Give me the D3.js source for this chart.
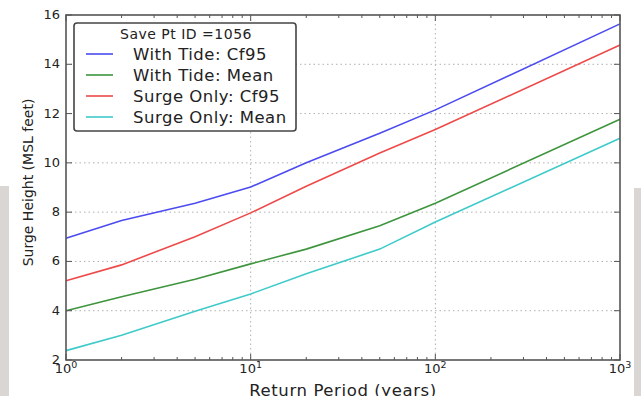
<!DOCTYPE html>
<html lang="en">
<head>
<meta charset="UTF-8">
<script src="https://d3js.org/d3.v7.min.js"></script>
<title>Surge Height</title>
<style>
  body { margin: 0; background: #fff; }
  text { font-family: "DejaVu Sans", sans-serif; fill: #222; }
</style>
</head>
<body>
<script>
    // return periods (years) and surge heights (MSL feet)
    let periods = [1, 2, 5, 10, 20, 50, 100, 1000];
    let tideCf95 = [6.94, 7.66, 8.36, 9.02, 10.0, 11.2, 12.15, 15.64];
    let tideMean = [4.0, 4.57, 5.28, 5.9, 6.5, 7.45, 8.36, 11.77];
    let surgeCf95 = [5.22, 5.86, 7.0, 7.97, 9.05, 10.4, 11.35, 14.78];
    let surgeMean = [2.38, 3.0, 3.98, 4.68, 5.5, 6.5, 7.6, 11.0];
    let seriesNames = ["With Tide: Cf95", "With Tide: Mean", "Surge Only: Cf95", "Surge Only: Mean"];
    let seriesColors = ["#4b4bf0", "#3e953e", "#ee4a4a", "#3fcaca"];
    let yTicks = [2, 4, 6, 8, 10, 12, 14, 16];
    let xTicks = [1, 10, 100, 1000];
    let legendTitle = "Save Pt ID =1056";

    let allSeries = [tideCf95, tideMean, surgeCf95, surgeMean];

    let width = 641, height = 396;
    let mLeft = 66, mRight = 620, mTop = 15, mBottom = 360;

    let svg = d3.select("body").append("svg")
        .attr("width", width)
        .attr("height", height);

    // grey page edges behind the figure
    svg.append("rect").attr("x", 0).attr("y", 186).attr("width", 9).attr("height", 210).attr("fill", "#d9d6d3");
    svg.append("rect").attr("x", 634).attr("y", 188).attr("width", 7).attr("height", 208).attr("fill", "#d9d6d3");

    let x = d3.scaleLog().domain([1, 1000]).range([mLeft, mRight]);
    let y = d3.scaleLinear().domain([2, 16]).range([mBottom, mTop]);

    // grid
    let grid = svg.append("g").attr("stroke", "#b0b0b0").attr("stroke-dasharray", "1.5,3").attr("stroke-width", 1);
    yTicks.slice(1, -1).forEach(t => {
        grid.append("line").attr("x1", mLeft).attr("x2", mRight).attr("y1", y(t)).attr("y2", y(t));
    });
    xTicks.slice(1, -1).forEach(t => {
        grid.append("line").attr("x1", x(t)).attr("x2", x(t)).attr("y1", mTop).attr("y2", mBottom);
    });

    // lines
    let line = d3.line()
        .x((d, i) => x(periods[i]))
        .y(d => y(d));

    allSeries.forEach((s, i) => {
        svg.append("path")
            .attr("d", line(s))
            .attr("fill", "none")
            .attr("stroke", seriesColors[i])
            .attr("stroke-width", 1.6);
    });

    // inward ticks, all four sides (matplotlib classic)
    let ticks = svg.append("g").attr("stroke", "#555").attr("stroke-width", 1);
    let minor = [];
    [1, 10, 100].forEach(d => { for (let k = 2; k <= 9; k++) minor.push(d * k); });
    xTicks.forEach(t => {
        ticks.append("line").attr("x1", x(t)).attr("x2", x(t)).attr("y1", mBottom).attr("y2", mBottom - 6);
        ticks.append("line").attr("x1", x(t)).attr("x2", x(t)).attr("y1", mTop).attr("y2", mTop + 6);
    });
    minor.forEach(t => {
        ticks.append("line").attr("x1", x(t)).attr("x2", x(t)).attr("y1", mBottom).attr("y2", mBottom - 3);
        ticks.append("line").attr("x1", x(t)).attr("x2", x(t)).attr("y1", mTop).attr("y2", mTop + 3);
    });
    yTicks.forEach(t => {
        ticks.append("line").attr("x1", mLeft).attr("x2", mLeft + 6).attr("y1", y(t)).attr("y2", y(t));
        ticks.append("line").attr("x1", mRight).attr("x2", mRight - 6).attr("y1", y(t)).attr("y2", y(t));
    });

    // frame
    svg.append("rect")
        .attr("x", mLeft).attr("y", mTop)
        .attr("width", mRight - mLeft).attr("height", mBottom - mTop)
        .attr("fill", "none").attr("stroke", "#555").attr("stroke-width", 1.6);

    // y tick labels
    yTicks.forEach(t => {
        svg.append("text")
            .attr("x", mLeft - 6)
            .attr("y", y(t) + 4)
            .attr("text-anchor", "end")
            .attr("font-size", 13)
            .text(t);
    });

    // x tick labels 10^n
    xTicks.forEach(t => {
        let lbl = svg.append("text")
            .attr("x", x(t))
            .attr("y", mBottom + 13)
            .attr("text-anchor", "middle")
            .attr("font-size", 13);
        lbl.append("tspan").text("10");
        lbl.append("tspan").attr("dy", -5).attr("font-size", 9.5).text(Math.round(Math.log10(t)));
    });

    // axis titles
    svg.append("text")
        .attr("x", (mLeft + mRight) / 2)
        .attr("y", 396)
        .attr("text-anchor", "middle")
        .attr("font-size", 16.5)
        .attr("letter-spacing", 0.6)
        .text("Return Period (years)");

    svg.append("text")
        .attr("transform", "translate(33," + ((mTop + mBottom) / 2 - 5) + ") rotate(-90)")
        .attr("text-anchor", "middle")
        .attr("font-size", 14)
        .text("Surge Height (MSL feet)");

    // legend
    let lg = svg.append("g");
    lg.append("rect")
        .attr("x", 74).attr("y", 23)
        .attr("width", 222).attr("height", 108)
        .attr("rx", 3)
        .attr("fill", "#fff")
        .attr("stroke", "#444")
        .attr("stroke-width", 1.6);
    lg.append("text")
        .attr("x", 186).attr("y", 39)
        .attr("text-anchor", "middle")
        .attr("font-size", 14)
        .attr("letter-spacing", 0.5)
        .text(legendTitle);
    seriesNames.forEach((n, i) => {
        let ly = 54 + i * 21;
        lg.append("line")
            .attr("x1", 86).attr("x2", 113)
            .attr("y1", ly).attr("y2", ly)
            .attr("stroke", seriesColors[i]).attr("stroke-width", 1.6);
        lg.append("text")
            .attr("x", 133).attr("y", ly + 6)
            .attr("font-size", 16.5)
            .attr("letter-spacing", 0.5)
            .text(n);
    });
</script>
</body>
</html>
